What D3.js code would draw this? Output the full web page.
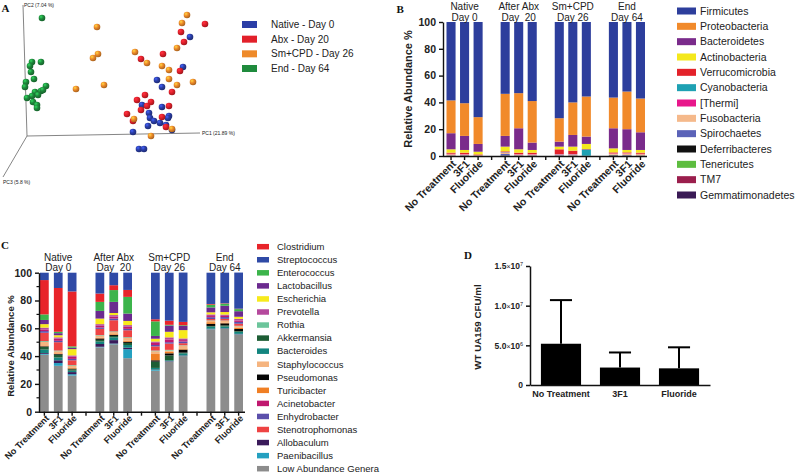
<!DOCTYPE html>
<html><head><meta charset="utf-8">
<script src="https://cdn.jsdelivr.net/npm/d3@7"></script>
<style>
body{margin:0;background:#fff}
text{font-family:"Liberation Sans",Arial,sans-serif;fill:#222}
.letter{font-family:"Liberation Serif","Times New Roman",serif;font-weight:bold;font-size:11px;fill:#111}
</style>
</head><body><svg id="c" width="797" height="474"></svg>
<script>
// ================= DATA =================
// Panel A : PCoA scores (projected plane coordinates)
const groupsA = ["Native - Day 0","Abx - Day 20","Sm+CPD - Day 26","End - Day 64"];
const colorsA = ["#2b3ea6","#e2202a","#ee8a2a","#1f8b3d"];
const nativeX = [163,156,130,135,135,115,122,123,127,121,133,142,141,139,145,106,112,117];
const nativeY = [99,69,56,49,29,31,23,18,15,10,13,20,18,11,6,4,-13,-13];
const abxX = [178,154,157,136,114,153,145,118,110,124,120,114,142,100,106,135,139];
const abxY = [112,104,94,82,77,65,44,41,36,34,30,26,30,22,15,19,9];
const smX = [160,155,70,150,71,66,108,120,135,142,142,150,166,77,49,107,145,124];
const smY = [121,113,109,88,82,78,84,73,70,66,57,51,54,51,47,17,7,0];
const endX = [15,5,14,4,7,-1,-2,8,14,19,16,11,5,0,6,10,10,3];
const endY = [118,74,74,64,57,54,49,44,45,50,46,41,40,38,34,31,28,70];
const pcAxes = ["PC1 (21.89 %)","PC2 (7.04 %)","PC3 (5.8 %)"];

// Panel B : phylum relative abundance (%)
const periodsL1 = ["Native","After Abx","Sm+CPD","End"];
const periodsL2 = ["Day 0","Day  20","Day 26","Day 64"];
const treatments = ["No Treatment","3F1","Fluoride"];
const phyla = ["Firmicutes","Proteobacteria","Bacteroidetes","Actinobacteria","Verrucomicrobia","Cyanobacteria","[Thermi]","Fusobacteria","Spirochaetes","Deferribacteres","Tenericutes","TM7","Gemmatimonadetes"];
const phylaColors = ["#2d3e9c","#f18a2b","#7a2b8b","#f4e81c","#e3222a","#1ea1b3","#e8178b","#f5b98b","#5b63b8","#111111","#5dbd3f","#9b1f4d","#3a1a55"];
const firmicutes      = [58.5,60.6,71,53.6,53.1,59,71.8,60,55.6,56.4,51.9,57.1];
const proteobacteria  = [24.5,24.4,20,31.4,26.2,31,17.5,24.3,29.9,22.9,28.1,25.2];
const bacteroidetes   = [12,10.5,5.8,8,15.7,5.5,3.7,8.7,5.5,15,15.5,13.2];
const actinobacteria  = [2.5,2,2,3.5,2.5,2,2,3,3.8,3,1.8,2];
const verrucomicrobia = [0.8,1,0.4,0.5,1,1,3.5,2.5,0.3,0.7,0.5,0.8];
const cyanobacteria   = [0.1,0,0,0.2,0,0,0.1,0.1,4.7,0,0,0];
const thermi          = [0.3,0.3,0.2,0.3,0.3,0.3,0.3,0.3,0,0.3,0.3,0.3];
const fusobacteria    = [0.8,0.6,0.3,1,0.7,0.7,0.5,0.6,0.1,0.8,1.2,1];
const spirochaetes    = [0.2,0.2,0.1,1,0.2,0.2,0.3,0.2,0.1,0.3,0.3,0.2];
const deferribacteres = [0.1,0.1,0.1,0.2,0.1,0.1,0.1,0.1,0,0.2,0.1,0.1];
const tenericutes     = [0.1,0.1,0,0.1,0.1,0.1,0.1,0.1,0,0.2,0.1,0.1];
const tm7             = [0.1,0.1,0.1,0.1,0.1,0.1,0.1,0.1,0,0.2,0.2,0];
const gemmatimonadetes= [0,0.1,0,0.1,0,0,0,0,0,0,0,0];
const phylaValues = [firmicutes,proteobacteria,bacteroidetes,actinobacteria,verrucomicrobia,cyanobacteria,thermi,fusobacteria,spirochaetes,deferribacteres,tenericutes,tm7,gemmatimonadetes];

// Panel C : genus relative abundance (%)
const genera = ["Clostridium","Streptococcus","Enterococcus","Lactobacillus","Escherichia","Prevotella","Rothia","Akkermansia","Bacteroides","Staphylococcus","Pseudomonas","Turicibacter","Acinetobacter","Enhydrobacter","Stenotrophomonas","Allobaculum","Paenibacillus","Low Abundance Genera"];
const generaColors = ["#e8242a","#2f4aa6","#3cb44b","#6b2a8f","#f7ea1c","#b5499d","#6cc59b","#1d5d35","#13857f","#f5b47f","#050505","#f07f24","#c0186f","#5b4fab","#ee4343","#3a1a5a","#24a0c0","#8c8c8c"];
const clostridium      = [24.7,31.5,39.5,6,3.5,5,1.5,3,2.4,0.5,0.3,0.3];
const streptococcus    = [5.3,11,13.5,15,9,12.4,33.5,34.5,35.5,22.5,22,26];
const enterococcus     = [4,1,1,6.5,8.5,12,10.5,0.5,0.5,2,1.5,1.5];
const lactobacillus    = [3,1.5,1,5.5,8,5.3,2,4.5,3,3.5,4.5,4];
const escherichia      = [2.5,1.5,4.5,4,1.5,3,2,4,6,1.5,1.8,1.5];
const prevotella       = [1.3,1,1,1.2,1,1.2,1,1.5,1.2,1.2,1,1.2];
const rothia           = [0.6,0.5,0.5,0.4,0.5,0.5,0.5,0.5,0.3,0.3,0.3,0.3];
const akkermansia      = [2,2,1,1.2,1,1.5,4.5,3.5,0.5,0.5,0.8,0.5];
const bacteroides      = [2.5,2,1,1.8,2,2,1.2,0.5,1.5,1.5,1.3,1.5];
const staphylococcus   = [2.5,1.5,1.5,1.5,1.5,2,2,1,2,1,1.2,1];
const pseudomonas      = [0.4,0.5,0.5,1,0.8,0.8,1,1.5,2.2,1.5,1.5,1.5];
const turicibacter     = [0.6,0.5,0.5,0.5,0.5,0.8,4.5,1,0.8,1.2,0.5,1];
const acinetobacter    = [1.2,1.5,1.5,1.2,1.5,1.5,1.5,2,1,0.8,0.8,1];
const enhydrobacter    = [1.2,1,1,1,1.2,1,1,1,1.2,1.3,1.3,1.3];
const stenotrophomonas = [6,6,3.5,4.5,8,5,3,4.5,1.5,1,1.2,1.5];
const allobaculum      = [0.6,2,1.5,2,2.5,1,0.3,0.3,0.3,0.3,0.3,0.3];
const paenibacillus    = [0.6,2,1,0.4,0.5,6.5,0.5,0.2,0.2,0.2,0.2,0.2];
const lowAbundance     = [41,33,26,46.3,48.5,38.5,29.5,36,40,59.2,59.5,55.5];
const generaValues = [clostridium,streptococcus,enterococcus,lactobacillus,escherichia,prevotella,rothia,akkermansia,bacteroides,staphylococcus,pseudomonas,turicibacter,acinetobacter,enhydrobacter,stenotrophomonas,allobaculum,paenibacillus,lowAbundance];
// stacking order (bottom -> top)
const generaStackOrder = ["Low Abundance Genera","Paenibacillus","Allobaculum","Bacteroides","Akkermansia","Pseudomonas","Turicibacter","Staphylococcus","Rothia","Stenotrophomonas","Enhydrobacter","Acinetobacter","Prevotella","Escherichia","Lactobacillus","Enterococcus","Clostridium","Streptococcus"];

// Panel D : WT UA159 CFU/ml
const dCategories = ["No Treatment","3F1","Fluoride"];
const dMeans = [5.2e6,2.2e6,2.1e6];
const dSD = [5.5e6,1.9e6,2.65e6];
const dTicks = [0,5e6,1e7,1.5e7];

// ================= DRAW =================
const svg = d3.select("#c");
svg.append("rect").attr("width",797).attr("height",474).attr("fill","#fff");
const defs = svg.append("defs");

// ---------- Panel A ----------
const gA = svg.append("g");
const xA = d3.scaleLinear().domain([0,173]).range([27,200]);
const yA = d3.scaleLinear().domain([0,131]).range([136,5]);
const axLine = (x2,y2)=> gA.append("line").attr("x1",xA(0)).attr("y1",yA(0)).attr("x2",xA(x2)).attr("y2",yA(y2)).attr("stroke","#666").attr("stroke-width",0.8);
axLine(173,3); axLine(-4,131); axLine(-24,-41);
gA.append("text").attr("x",xA(175)).attr("y",yA(1)).attr("font-size",5).text(pcAxes[0]);
gA.append("text").attr("x",xA(-3)).attr("y",yA(129)).attr("font-size",5).text(pcAxes[1]);
gA.append("text").attr("x",xA(-24)).attr("y",yA(-48)).attr("font-size",5).text(pcAxes[2]);
colorsA.forEach((c,i)=>{
  const g = defs.append("radialGradient").attr("id","sph"+i).attr("cx","35%").attr("cy","32%").attr("r","70%");
  g.append("stop").attr("offset","0%").attr("stop-color",d3.color(c).brighter(1.3));
  g.append("stop").attr("offset","45%").attr("stop-color",c);
  g.append("stop").attr("offset","100%").attr("stop-color",d3.color(c).darker(1));
});
const ptsA = [];
[[nativeX,nativeY],[abxX,abxY],[smX,smY],[endX,endY]].forEach(([xs,ys],gi)=>xs.forEach((x,j)=>ptsA.push({g:gi,x:x,y:ys[j]})));
gA.selectAll("circle.pt").data(ptsA).join("circle").attr("class","pt")
  .attr("cx",d=>xA(d.x)).attr("cy",d=>yA(d.y)).attr("r",3.3).attr("fill",d=>"url(#sph"+d.g+")");
const legA = gA.append("g");
const yLegA = d3.scalePoint().domain(groupsA).range([24.5,68.5]);
groupsA.forEach((k,i)=>{
  legA.append("rect").attr("x",242).attr("y",yLegA(k)-3.5).attr("width",15).attr("height",7).attr("fill",colorsA[i]);
  legA.append("text").attr("x",271).attr("y",yLegA(k)).attr("dy","0.35em").attr("font-size",10).text(k);
});
svg.append("text").attr("class","letter").attr("x",1.5).attr("y",11.5).text("A");

// ---------- helpers for stacked panels ----------
function slotKeys(){
  const s=[];
  periodsL1.forEach((p,g)=>{ treatments.forEach(t=>s.push(g+"|"+t)); if(g<periodsL1.length-1) s.push("gap"+g); });
  return s;
}
const slots = slotKeys();
const barKeys = slots.filter(k=>!k.startsWith("gap"));

function stackedPanel(opt){
  const g = svg.append("g");
  const x = d3.scaleBand().domain(slots).range(opt.xr).paddingInner(opt.pad).paddingOuter(0);
  const y = d3.scaleLinear().domain([0,100]).range(opt.yr);
  const rows = barKeys.map((k,i)=>{ const r={key:k}; opt.names.forEach((n,j)=>r[n]=opt.values[j][i]); return r; });
  const series = d3.stack().keys(opt.order)(rows);
  const colorOf = n=>opt.colors[opt.names.indexOf(n)];
  g.selectAll("g.s").data(series).join("g").attr("class","s").attr("fill",s=>colorOf(s.key))
    .selectAll("rect").data(s=>s).join("rect")
    .attr("x",d=>x(d.data.key)).attr("width",x.bandwidth())
    .attr("y",d=>y(d[1])).attr("height",d=>Math.max(0,y(d[0])-y(d[1])));
  // y axis
  const ya = g.append("g").attr("transform",`translate(${opt.xr[0]-opt.axOff},0)`)
    .call(d3.axisLeft(y).tickValues([0,20,40,60,80,100]).tickSize(4).tickSizeOuter(0));
  ya.selectAll("text").attr("font-size",opt.tickFs).attr("font-weight","bold").attr("fill","#111");
  ya.selectAll("line,path").attr("stroke","#111").attr("stroke-width",1.4);
  if(opt.minor){
    ya.selectAll("line.mn").data([10,30,50,70,90]).join("line").attr("class","mn")
      .attr("x1",0).attr("x2",-2.5).attr("y1",d=>y(d)).attr("y2",d=>y(d)).attr("stroke","#111").attr("stroke-width",1.2);
  }
  // x axis
  const xa = g.append("g").attr("transform",`translate(0,${opt.yr[0]})`)
    .call(d3.axisBottom(x).tickSize(4).tickSizeOuter(0).tickFormat(k=>k.startsWith("gap")?"":k.split("|")[1]));
  xa.select(".domain").attr("d",`M${opt.xr[0]-opt.axOff},0.5H${opt.xr[1]+2}`);
  xa.selectAll("line,path").attr("stroke","#111").attr("stroke-width",1.4);
  xa.selectAll("text").attr("x",0).attr("y",0).attr("dy","0.35em")
    .attr("transform",opt.labT+" rotate(-45)").style("text-anchor","end")
    .attr("font-size",opt.labFs).attr("font-weight","bold").attr("fill","#111");
  // headers
  periodsL1.forEach((p,gi)=>{
    const cx = x(gi+"|3F1")+x.bandwidth()/2;
    g.append("text").attr("x",cx).attr("y",opt.yr[1]-opt.h1).attr("text-anchor","middle").attr("font-size",10).attr("fill","#333").text(p);
    g.append("text").attr("x",cx).attr("y",opt.yr[1]-opt.h2).attr("text-anchor","middle").attr("font-size",10).attr("fill","#333").style("white-space","pre").text(periodsL2[gi]);
  });
  // y label
  g.append("text").attr("transform",`translate(${opt.ylab[0]},${opt.ylab[1]}) rotate(-90)`)
    .attr("text-anchor","middle").attr("font-size",opt.ylabFs).attr("font-weight","bold").attr("fill","#111").text("Relative Abundance %");
  // legend
  const ly = d3.scalePoint().domain(opt.names).range(opt.legY);
  opt.names.forEach((n,i)=>{
    g.append("rect").attr("x",opt.legX).attr("y",ly(n)-opt.legH/2).attr("width",opt.legW).attr("height",opt.legH).attr("fill",opt.colors[i]);
    g.append("text").attr("x",opt.legX+opt.legW+opt.legGap).attr("y",ly(n)).attr("dy","0.35em").attr("font-size",opt.legFs).attr("fill","#333").text(n);
  });
}

// ---------- Panel B ----------
stackedPanel({
  xr:[446.5,645], yr:[156,22], pad:0.33, axOff:3.5,
  names:phyla, colors:phylaColors, values:phylaValues, order:phyla.slice().reverse(),
  tickFs:10.5, labFs:10.5, labT:"translate(3,6)", minor:false,
  h1:12, h2:1.5, ylab:[412,89], ylabFs:11,
  legX:677, legW:19, legH:7, legGap:4, legY:[11,195], legFs:10.5
});
svg.append("text").attr("class","letter").attr("x",396.5).attr("y",13).text("B");

// ---------- Panel C ----------
stackedPanel({
  xr:[40,243], yr:[411.7,272.7], pad:0.37, axOff:1,
  names:genera, colors:generaColors, values:generaValues, order:generaStackOrder,
  tickFs:10.5, labFs:9.1, labT:"translate(3,5)", minor:true,
  h1:12, h2:1.5, ylab:[14,346], ylabFs:9.5,
  legX:257, legW:12, legH:5.5, legGap:8, legY:[246.7,468.7], legFs:9.5
});
svg.append("text").attr("class","letter").attr("x",1).attr("y",249).text("C");

// ---------- Panel D ----------
const gD = svg.append("g");
const xD = d3.scaleBand().domain(dCategories).range([530,710]).paddingInner(0.32).paddingOuter(0.185);
const yD = d3.scaleLinear().domain([0,1.5e7]).range([385,266]);
gD.selectAll("rect.bar").data(dCategories).join("rect").attr("class","bar")
  .attr("x",d=>xD(d)).attr("width",xD.bandwidth())
  .attr("y",(d,i)=>yD(dMeans[i])).attr("height",(d,i)=>yD(0)-yD(dMeans[i])).attr("fill","#000");
const capW = xD.bandwidth()*0.55;
dCategories.forEach((c,i)=>{
  const cx = xD(c)+xD.bandwidth()/2;
  gD.append("line").attr("x1",cx).attr("x2",cx).attr("y1",yD(dMeans[i])).attr("y2",yD(dMeans[i]+dSD[i])).attr("stroke","#000").attr("stroke-width",2);
  gD.append("line").attr("x1",cx-capW/2).attr("x2",cx+capW/2).attr("y1",yD(dMeans[i]+dSD[i])).attr("y2",yD(dMeans[i]+dSD[i])).attr("stroke","#000").attr("stroke-width",2);
});
const yaD = gD.append("g").attr("transform","translate(530,0)")
  .call(d3.axisLeft(yD).tickValues(dTicks).tickSize(4).tickSizeOuter(0).tickFormat(()=>""));
yaD.selectAll("line,path").attr("stroke","#111").attr("stroke-width",1.5);
yaD.selectAll(".tick text").each(function(d){
  const t = d3.select(this).attr("font-size",8.5).attr("font-weight","bold").attr("fill","#222");
  if(d===0){ t.text("0"); return; }
  const e = Math.floor(Math.log10(d)), m = (d/Math.pow(10,e)).toFixed(1);
  t.append("tspan").text(m);
  t.append("tspan").attr("font-weight","normal").attr("font-size",7).text("×");
  t.append("tspan").text("10");
  t.append("tspan").attr("dy","-0.5em").attr("font-size",5.5).attr("font-weight","normal").text(e);
});
const xaD = gD.append("g").attr("transform","translate(0,385)")
  .call(d3.axisBottom(xD).tickSize(0).tickSizeOuter(0).tickPadding(6));
xaD.selectAll("line,path").attr("stroke","#111").attr("stroke-width",1.5);
xaD.selectAll("text").attr("font-size",9).attr("font-weight","bold").attr("fill","#111");
gD.append("text").attr("transform","translate(481,327) rotate(-90)").attr("text-anchor","middle")
  .attr("font-size",9.8).attr("font-weight","bold").attr("fill","#111").text("WT UA159 CFU/ml");
svg.append("text").attr("class","letter").attr("x",464).attr("y",258.5).text("D");
</script></body></html>
